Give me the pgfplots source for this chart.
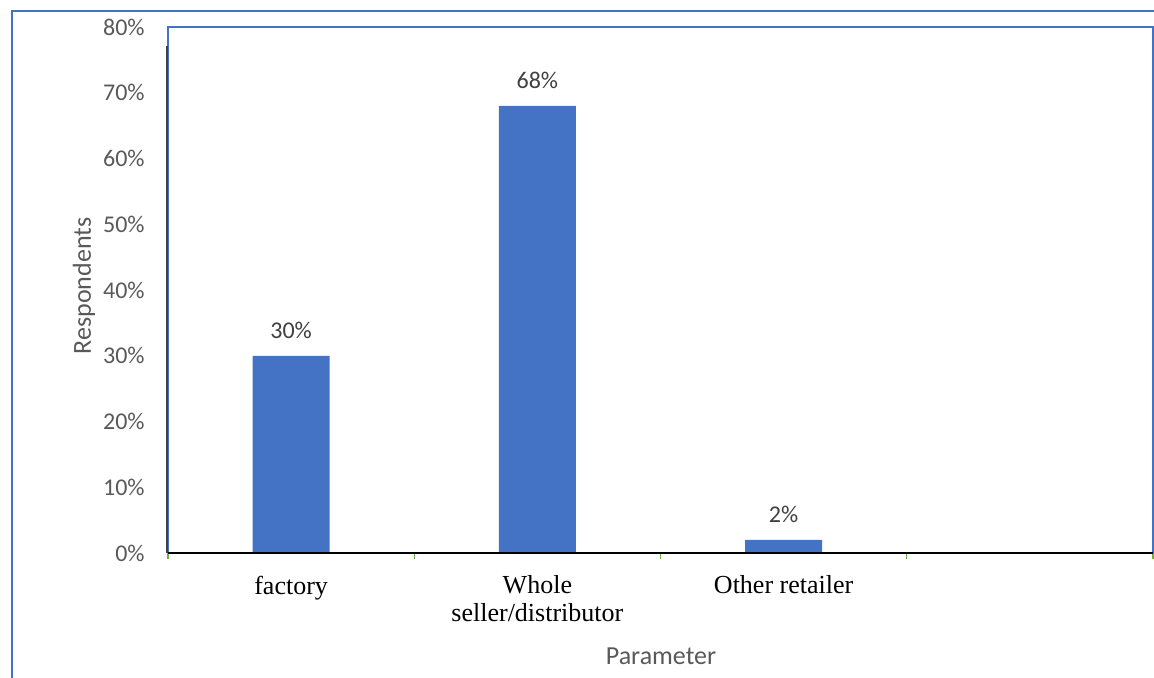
\documentclass[border=0pt]{standalone}
\usepackage{fontspec}
\setmainfont{Liberation Serif}
\newfontfamily\calfont{Carlito}
\usepackage{pgfplots}
\pgfplotsset{compat=1.18}
\definecolor{barblue}{HTML}{4472C4}
\definecolor{axgray}{HTML}{595959}
\definecolor{lblgray}{HTML}{404040}
\definecolor{tickgreen}{HTML}{70AD47}

\begin{document}
\begin{tikzpicture}[x=0.5pt,y=0.5pt]
\useasboundingbox (0,0) rectangle (1154,678);
% outer chart frame
\draw[barblue, line width=1pt] (12,0) -- (12,667) -- (1160,667);
\begin{axis}[
  at={(84pt,62.5pt)}, anchor=south west,
  scale only axis, width=492.5pt, height=263pt,
  ymin=0, ymax=80,
  xmin=-0.5, xmax=3.5,
  ytick={0,10,...,80},
  yticklabel={\pgfmathprintnumber{\tick}\%},
  /pgf/number format/assume math mode=true,
  yticklabel style={font=\calfont\fontsize{12}{14}\selectfont, text=axgray, anchor=east, inner sep=0pt, xshift=-11.5pt},
  ytick style={draw=none},
  xtick={0,1,2},
  xticklabels={factory, {Whole\\seller/distributor}, Other retailer},
  xticklabel style={font=\fontsize{13}{13.6}\selectfont, text=black, align=center, anchor=north, inner sep=0pt, yshift=-7pt},
  xtick style={draw=none},
  axis line style={draw=none},
  ybar, bar width=38.5pt,
  clip=false,
  nodes near coords={\pgfmathprintnumber{\pgfplotspointmeta}\%},
  every node near coord/.append style={font=\calfont\fontsize{12}{14}\selectfont, text=lblgray, inner sep=0pt, anchor=south, yshift=8.5pt},
]
\addplot[fill=barblue, draw=none] coordinates {(0,30) (1,68) (2,2)};
% plot area frame and axis lines
\draw[barblue, line width=0.6pt] (rel axis cs:0,0) rectangle (rel axis cs:1,1);
\draw[lblgray, line width=1pt] ([xshift=-0.5pt]rel axis cs:0,0) -- ([xshift=-0.5pt,yshift=-9.5pt]rel axis cs:0,1);
% category separators below the baseline
\pgfplotsinvokeforeach{-0.5,0.5,1.5,2.5,3.5}{
  \draw[tickgreen, line width=0.6pt] (axis cs:#1,0) -- ([yshift=-3pt]axis cs:#1,0);
}
\draw[black, line width=1pt] (rel axis cs:0,0) -- (rel axis cs:1,0);
\end{axis}
% axis titles
\node[rotate=90, font=\calfont\fontsize{13}{15}\selectfont, text=axgray] at (84,392) {Respondents};
\node[font=\calfont\fontsize{13}{15}\selectfont, text=axgray] at (661,22) {Parameter};
\end{tikzpicture}
\end{document}
